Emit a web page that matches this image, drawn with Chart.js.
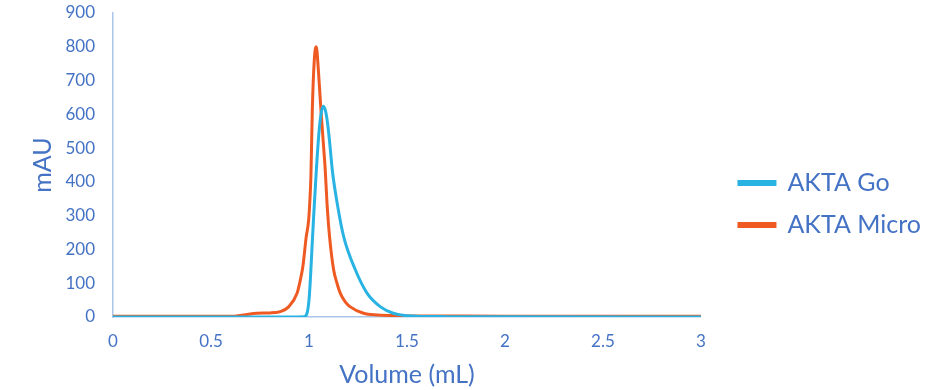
<!DOCTYPE html>
<html>
<head>
<meta charset="utf-8">
<script src="https://cdn.jsdelivr.net/npm/chart.js@4/dist/chart.umd.min.js"></script>
<style>
  html, body { margin: 0; padding: 0; background: #fff; }
  #wrap { width: 940px; height: 390px; }
</style>
</head>
<body>
<div id="wrap"><canvas id="chromatogram"></canvas></div>
<script>
// AKTA Go / AKTA Micro 크로마토그램
const goVolume = [0, 0.9, 0.975, 0.99, 1.0, 1.007, 1.015, 1.024, 1.037, 1.05, 1.06, 1.072, 1.083, 1.095, 1.105, 1.12, 1.143, 1.177, 1.237, 1.297, 1.365, 1.43, 1.5, 1.7, 2, 3];
const goMAU = [0, 0, 1, 11, 50, 110, 200, 300, 430, 540, 595, 624, 613, 573, 520, 430, 340, 238, 139, 70, 30, 11, 4, 1, 0.5, 0];

const microVolume = [0, 0.6, 0.666, 0.734, 0.8, 0.853, 0.896, 0.939, 0.956, 0.969, 0.986, 0.998, 1.005, 1.01, 1.017, 1.027, 1.037, 1.048, 1.061, 1.072, 1.083, 1.092, 1.105, 1.126, 1.143, 1.16, 1.185, 1.211, 1.278, 1.35, 1.45, 1.7, 2, 3];
const microMAU = [2, 2, 6, 11, 12, 16, 30, 70, 110, 150, 238, 285, 350, 420, 613, 760, 800, 730, 613, 524, 435, 337, 238, 139, 100, 70, 45, 30, 11, 6, 4, 3, 2, 2];

const seriesNames = ['AKTA Go', 'AKTA Micro'];
const seriesColors = ['#29b3e3', '#ef5a23'];

const textColor = '#4472c4';
const axisColor = '#a9c5ea';

function toPoints(xs, ys) {
    return xs.map((x, i) => ({ x: x, y: ys[i] }));
}

const ctx = document.getElementById('chromatogram').getContext('2d');
window.chromChart = new Chart(ctx, {
    type: 'line',
    data: {
        datasets: [{
            label: seriesNames[0],
            data: toPoints(goVolume, goMAU),
            borderColor: seriesColors[0],
            backgroundColor: seriesColors[0],
            borderWidth: 3,
            pointRadius: 0,
            cubicInterpolationMode: 'monotone'
        }, {
            label: seriesNames[1],
            data: toPoints(microVolume, microMAU),
            borderColor: seriesColors[1],
            backgroundColor: seriesColors[1],
            borderWidth: 3,
            pointRadius: 0,
            cubicInterpolationMode: 'monotone'
        }]
    },
    options: {
        responsive: true,
        maintainAspectRatio: false,
        animation: false,
        layout: { padding: { top: 0, right: 9, bottom: 0, left: 0 } },
        plugins: {
            tooltip: { enabled: false },
            legend: {
                position: 'right',
                maxWidth: 260,
                // 빈 제목으로 범례를 조금 아래로 내림
                title: { display: true, text: ' ', font: { size: 10 }, padding: 3 },
                labels: {
                    color: textColor,
                    font: { family: 'Lato', size: 25 },
                    boxWidth: 36,
                    boxHeight: 3,
                    padding: 17
                }
            }
        },
        scales: {
            x: {
                type: 'linear',
                min: 0,
                max: 3,
                ticks: {
                    stepSize: 0.5,
                    color: textColor,
                    font: { family: 'Lato', size: 17 },
                    padding: 14,
                    maxRotation: 0,
                    callback: v => String(v)
                },
                grid: { display: false, drawTicks: false },
                border: { color: axisColor, width: 1.5 },
                title: {
                    display: true,
                    text: 'Volume (mL)',
                    color: textColor,
                    font: { family: 'Lato', size: 25 },
                    padding: { top: 4, bottom: 0 }
                },
                afterFit: function(scale) { scale.height = 73; }
            },
            y: {
                min: 0,
                max: 900,
                ticks: {
                    stepSize: 100,
                    color: textColor,
                    font: { family: 'Lato', size: 17 },
                    padding: 18
                },
                grid: { display: false, drawTicks: false },
                border: { color: axisColor, width: 1.5 },
                title: {
                    display: true,
                    text: 'mAU',
                    color: textColor,
                    font: { family: 'Lato', size: 25 },
                    padding: { top: 28, bottom: 0 }
                },
                afterFit: function(scale) {
                    scale.width = 113;
                    scale.paddingTop = 13;
                }
            },
            // 범례와 그래프 사이 여백용
            gap: {
                type: 'linear',
                position: 'right',
                display: true,
                ticks: { display: false },
                grid: { display: false, drawTicks: false },
                border: { display: false },
                afterFit: function(scale) { scale.width = 21; }
            }
        }
    }
});
</script>
</body>
</html>
